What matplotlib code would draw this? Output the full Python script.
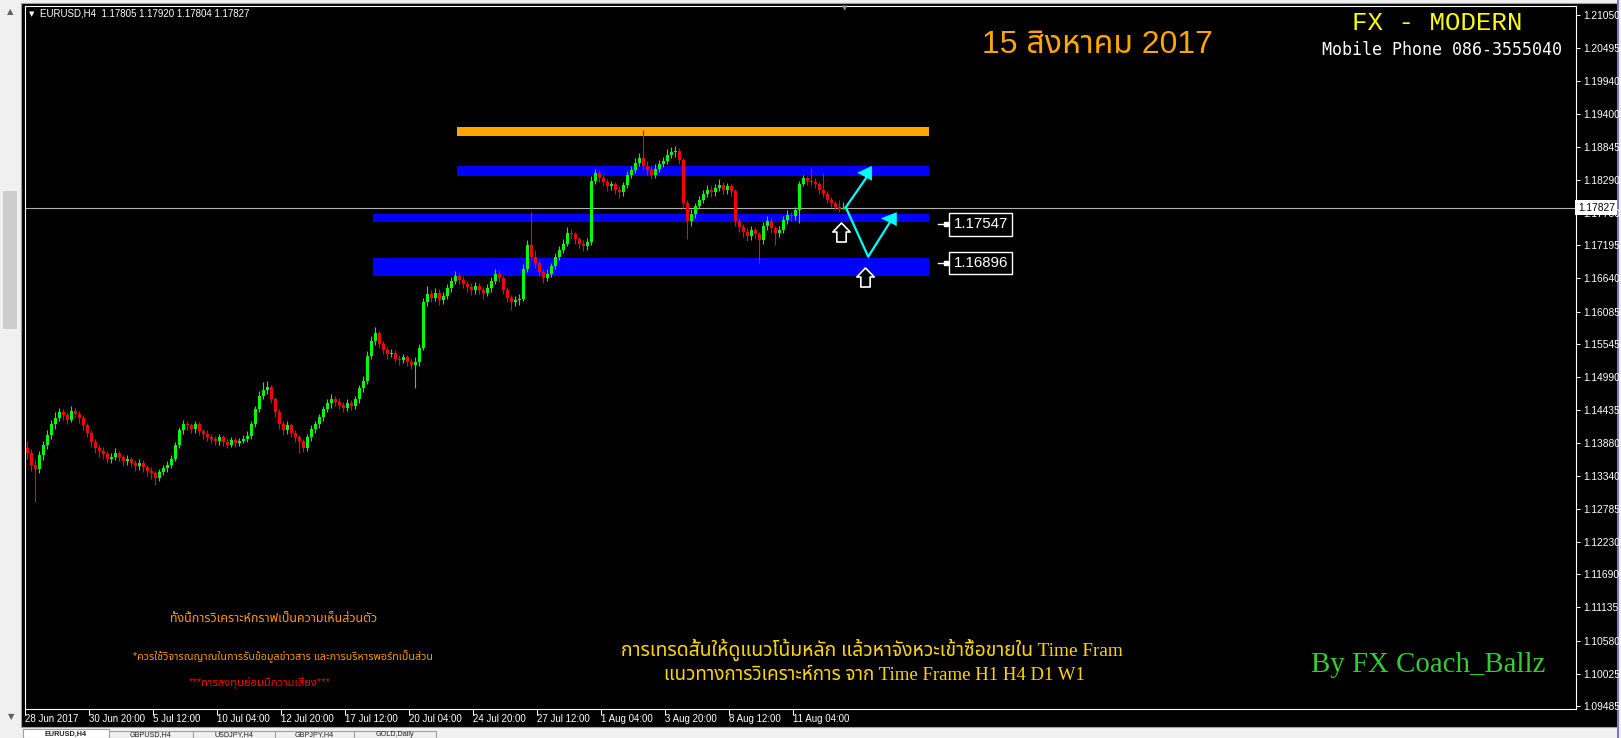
import matplotlib
matplotlib.use('Agg')
import matplotlib.pyplot as plt
from matplotlib import font_manager
from matplotlib.ft2font import FT2Font
from matplotlib.patches import Rectangle, Polygon
from matplotlib.path import Path

W, H = 1621, 738

# ---------------- data ----------------
first_open = 1.1380
closes = [
    1.1372, 1.1352, 1.1345, 1.1368, 1.1385, 1.1402, 1.1420, 1.1430, 1.1440, 1.1436,
    1.1428, 1.1442, 1.1438, 1.1430, 1.1418, 1.1405, 1.1390, 1.1380, 1.1375, 1.1370,
    1.1362, 1.1366, 1.1372, 1.1365, 1.1358, 1.1362, 1.1355, 1.1350, 1.1356, 1.1348,
    1.1342, 1.1338, 1.1330, 1.1340, 1.1346, 1.1352, 1.1362, 1.1385, 1.1410, 1.1420,
    1.1418, 1.1412, 1.1420, 1.1408, 1.1404, 1.1398, 1.1395, 1.1392, 1.1398, 1.1390,
    1.1386, 1.1394, 1.1388, 1.1392, 1.1396, 1.1400, 1.1420, 1.1445, 1.1468, 1.1478,
    1.1482, 1.1462, 1.1440, 1.1420, 1.1410, 1.1418, 1.1405, 1.1398, 1.1392, 1.1380,
    1.1398, 1.1412, 1.1420, 1.1432, 1.1445, 1.1455, 1.1462, 1.1458, 1.1452, 1.1448,
    1.1456, 1.1450, 1.1462, 1.1480, 1.1492, 1.1535, 1.1560, 1.1572, 1.1555, 1.1545,
    1.1538, 1.1540, 1.1530, 1.1528, 1.1532, 1.1525, 1.1520, 1.1525, 1.1548, 1.1625,
    1.1638, 1.1632, 1.1640, 1.1628, 1.1635, 1.1648, 1.1660, 1.1668, 1.1662, 1.1655,
    1.1650, 1.1644, 1.1652, 1.1645, 1.1640, 1.1648, 1.1660, 1.1672, 1.1665, 1.1645,
    1.1632, 1.1625, 1.1628, 1.1630, 1.1680, 1.1720, 1.1700, 1.1690, 1.1675, 1.1665,
    1.1672, 1.1685, 1.1700, 1.1712, 1.1722, 1.1740, 1.1738, 1.1730, 1.1722, 1.1718,
    1.1725, 1.1828, 1.1840, 1.1832, 1.1825, 1.1818, 1.1822, 1.1812, 1.1808, 1.1820,
    1.1838, 1.1845, 1.1858, 1.1865, 1.1852, 1.1845, 1.1838, 1.1848, 1.1855, 1.1860,
    1.1870, 1.1875, 1.1878, 1.1862, 1.1790, 1.1760, 1.1772, 1.1785, 1.1795, 1.1805,
    1.1812, 1.1808, 1.1815, 1.1820, 1.1812, 1.1818, 1.1810, 1.1760, 1.1750, 1.1742,
    1.1735, 1.1745, 1.1738, 1.1728, 1.1752, 1.1760, 1.1748, 1.1740, 1.1745, 1.1762,
    1.1770, 1.1768, 1.1778, 1.1822, 1.1832, 1.1828, 1.1826, 1.1822, 1.1812, 1.1805,
    1.1796, 1.1790, 1.1784, 1.17805, 1.17827,
]
highs = [
    1.1392, 1.1378, 1.1360, 1.1375, 1.1392, 1.1410, 1.1428, 1.1441, 1.1448, 1.1446,
    1.1440, 1.1450, 1.1447, 1.1442, 1.1435, 1.1422, 1.1410, 1.1395, 1.1386, 1.1382,
    1.1376, 1.1372, 1.1380, 1.1376, 1.1368, 1.1368, 1.1366, 1.1360, 1.1362, 1.1360,
    1.1352, 1.1348, 1.1342, 1.1345, 1.1352, 1.1358, 1.1368, 1.1390, 1.1416, 1.1428,
    1.1426, 1.1422, 1.1425, 1.1424, 1.1412, 1.1410, 1.1404, 1.1400, 1.1404, 1.1402,
    1.1395, 1.1399, 1.1398, 1.1397, 1.1402, 1.1408, 1.1426, 1.1450, 1.1475, 1.1490,
    1.1492, 1.1486, 1.1466, 1.1445, 1.1426, 1.1425, 1.1422, 1.1410, 1.1402, 1.1396,
    1.1404, 1.1418, 1.1426, 1.1438, 1.1450, 1.1462, 1.1470, 1.1468, 1.1464, 1.1458,
    1.1462, 1.1460, 1.1468, 1.1486, 1.1500, 1.1542, 1.1568, 1.1582, 1.1576, 1.1560,
    1.1550, 1.1546, 1.1544, 1.1536, 1.1538, 1.1536, 1.1530, 1.1532, 1.1555, 1.1632,
    1.1652, 1.1645, 1.1648, 1.1646, 1.1642, 1.1654, 1.1666, 1.1676, 1.1674, 1.1668,
    1.1660, 1.1656, 1.1658, 1.1656, 1.1650, 1.1654, 1.1666, 1.1680, 1.1678, 1.1668,
    1.1650, 1.1636, 1.1635, 1.1638, 1.1688, 1.1728, 1.1775, 1.1712, 1.1695, 1.1680,
    1.1680, 1.1690, 1.1706, 1.1718, 1.1730, 1.1750, 1.1746, 1.1742, 1.1734, 1.1728,
    1.1732, 1.1835, 1.1848, 1.1845, 1.1838, 1.1830, 1.1828, 1.1826, 1.1818, 1.1826,
    1.1844, 1.1852, 1.1866, 1.1874, 1.1912, 1.1860, 1.1852, 1.1855, 1.1862, 1.1868,
    1.1880, 1.1884, 1.1886, 1.1882, 1.1866, 1.1795, 1.1780, 1.1790, 1.1802, 1.1812,
    1.1820, 1.1818, 1.1822, 1.1830, 1.1826, 1.1824, 1.1822, 1.1814, 1.1766, 1.1756,
    1.1748, 1.1752, 1.1750, 1.1742, 1.1758, 1.1768, 1.1765, 1.1752, 1.1752, 1.1768,
    1.1778, 1.1776, 1.1784, 1.1828, 1.1838, 1.1836, 1.1849, 1.1832, 1.1826, 1.1841,
    1.1810, 1.1800, 1.1794, 1.1795, 1.17920,
]
lows = [
    1.1362, 1.1342, 1.1290, 1.1338, 1.1360, 1.1378, 1.1395, 1.1412, 1.1425, 1.1428,
    1.1420, 1.1424, 1.1430, 1.1422, 1.1410, 1.1398, 1.1382, 1.1372, 1.1366, 1.1362,
    1.1355, 1.1356, 1.1360, 1.1358, 1.1350, 1.1352, 1.1348, 1.1342, 1.1344, 1.1340,
    1.1334, 1.1328, 1.1318, 1.1325, 1.1335, 1.1340, 1.1346, 1.1358, 1.1380, 1.1404,
    1.1410, 1.1405, 1.1406, 1.1402, 1.1396, 1.1392, 1.1388, 1.1386, 1.1386, 1.1384,
    1.1380, 1.1382, 1.1382, 1.1384, 1.1388, 1.1390, 1.1396, 1.1416, 1.1440, 1.1462,
    1.1470, 1.1455, 1.1432, 1.1412, 1.1402, 1.1404, 1.1398, 1.1390, 1.1372, 1.1374,
    1.1376, 1.1392, 1.1406, 1.1414, 1.1426, 1.1440, 1.1448, 1.1450, 1.1445, 1.1440,
    1.1442, 1.1444, 1.1446, 1.1456, 1.1474, 1.1488, 1.1530, 1.1552, 1.1548, 1.1538,
    1.1530, 1.1532, 1.1524, 1.1520, 1.1522, 1.1518, 1.1512, 1.1480, 1.1518, 1.1544,
    1.1618, 1.1624, 1.1626, 1.1620, 1.1622, 1.1630, 1.1642, 1.1655, 1.1655, 1.1648,
    1.1642, 1.1636, 1.1638, 1.1638, 1.1630, 1.1634, 1.1642, 1.1655, 1.1658, 1.1638,
    1.1625, 1.1612, 1.1618, 1.1620, 1.1626, 1.1675, 1.1695, 1.1682, 1.1668, 1.1656,
    1.1660, 1.1666, 1.1680, 1.1695, 1.1706, 1.1718, 1.1730, 1.1722, 1.1715, 1.1710,
    1.1712, 1.1720, 1.1822, 1.1825, 1.1818, 1.1810, 1.1812, 1.1805, 1.1798, 1.1802,
    1.1815, 1.1832, 1.1840, 1.1852, 1.1845, 1.1838, 1.1830, 1.1832, 1.1842, 1.1850,
    1.1855, 1.1866, 1.1868, 1.1855, 1.1782, 1.1730, 1.1752, 1.1766, 1.1780, 1.1790,
    1.1800, 1.1800, 1.1802, 1.1810, 1.1805, 1.1806, 1.1802, 1.1752, 1.1742, 1.1734,
    1.1726, 1.1728, 1.1730, 1.1690, 1.1722, 1.1745, 1.1740, 1.1720, 1.1734, 1.1740,
    1.1756, 1.1760, 1.1762, 1.1757, 1.1818, 1.1820, 1.1820, 1.1815, 1.1806, 1.1800,
    1.1790, 1.1784, 1.1778, 1.1776, 1.17804,
]
opens = [first_open] + closes[:-1]

price_ticks = [1.21050, 1.20495, 1.19940, 1.19400, 1.18845, 1.18290, 1.17730,
               1.17195, 1.16640, 1.16085, 1.15545, 1.14990, 1.14435, 1.13880,
               1.13340, 1.12785, 1.12230, 1.11690, 1.11135, 1.10580, 1.10025, 1.09485]
time_labels = ["28 Jun 2017", "30 Jun 20:00", "5 Jul 12:00", "10 Jul 04:00",
               "12 Jul 20:00", "17 Jul 12:00", "20 Jul 04:00", "24 Jul 20:00",
               "27 Jul 12:00", "1 Aug 04:00", "3 Aug 20:00", "8 Aug 12:00", "11 Aug 04:00"]
bars_per_label = 16
last_price = 1.17827

# support / resistance zones (bar index range, price range)
zone_low = [1.19025, 1.18355, 1.17586, 1.16682]
zone_high = [1.19176, 1.18523, 1.17719, 1.16983]
zone_start = [107.5, 107.5, 86.5, 86.5]
zone_end = 225.5
zone_colors = ['#FFA500', '#0000FF', '#0000FF', '#0000FF']

label_prices = [1.17547, 1.16896]

# projected path (cyan)
up_x, up_y = [204.7, 210.3], [1.17832, 1.18372]
down_x, down_y = [204.7, 210.3, 216.6], [1.17832, 1.17005, 1.17674]
head1 = [(207.6, 1.18411), (211.2, 1.18523), (211.2, 1.18277)]
head2 = [(213.5, 1.17648), (217.4, 1.17748), (217.4, 1.17519)]
buy_x, buy_y = [203.6, 209.6], [1.17415, 1.16665]

# ---------------- fonts ----------------
names = {f.name for f in font_manager.fontManager.ttflist}


def pick_thai_font():
    found = []
    for f in font_manager.fontManager.ttflist:
        try:
            ft = FT2Font(f.fname)
            if all(ft.get_char_index(ord(ch)) for ch in 'กสงหาคม'):
                found.append(f.name)
        except Exception:
            pass
    for n in ('Tahoma', 'Noto Sans Thai', 'Noto Sans Thai UI', 'Loma', 'Garuda',
              'Sarabun', 'Norasi', 'Kinnari', 'Waree'):
        if n in found:
            return n
    return found[0] if found else None


thai = pick_thai_font()
narrow = 'Liberation Sans Narrow' if 'Liberation Sans Narrow' in names else 'Liberation Sans'


def fam(*fams):
    out = list(fams)
    if thai:
        out.append(thai)
    out.append('DejaVu Sans')
    return out


def fx(px):
    return px / W


def fy(py):
    return 1 - py / H


# ---------------- figure ----------------
fig = plt.figure(figsize=(W / 100, H / 100), dpi=100, facecolor='#F0F0F0')
fig.add_artist(Rectangle((fx(21), fy(727)), (1617 - 21) / W, (727 - 3) / H,
                         transform=fig.transFigure, facecolor='black',
                         edgecolor='#A0A0A0', lw=0.8, zorder=-2))
# scrollbar on the left
fig.add_artist(Rectangle((fx(3), fy(329)), 14 / W, (329 - 191) / H,
                         transform=fig.transFigure, facecolor='#CDCDCD',
                         edgecolor='none', zorder=-2))
fig.text(fx(10), fy(12), '▲', color='#606060', fontsize=6, ha='center', va='center',
         family='DejaVu Sans')
fig.text(fx(11), fy(717), '▼', color='#606060', fontsize=6, ha='center', va='center',
         family='DejaVu Sans')
fig.add_artist(Rectangle((fx(1617), 0), 2 / W, fy(0),
                         transform=fig.transFigure, facecolor='#8070D0',
                         edgecolor='none', zorder=-1))

# tabs at the bottom
tab_edges = [23, 109, 193, 275, 354, 436]
tab_names = ['EURUSD,H4', 'GBPUSD,H4', 'USDJPY,H4', 'GBPJPY,H4', 'GOLD,Daily']
for k, name in enumerate(tab_names):
    x0, x1 = tab_edges[k], tab_edges[k + 1]
    fig.add_artist(Rectangle((fx(x0), 0), (x1 - x0) / W, fy(729 if k == 0 else 731),
                             transform=fig.transFigure,
                             facecolor='white' if k == 0 else '#F0F0F0',
                             edgecolor='#A0A0A0', lw=0.8, zorder=-1))
    fig.text(fx((x0 + x1) / 2), fy(734.5), name, color='#202020', fontsize=5.2,
             ha='center', va='center', family='Liberation Sans',
             fontweight='bold' if k == 0 else 'normal')

ax = fig.add_axes([fx(25), fy(709), (1576 - 25) / W, (709 - 6) / H])
ax.set_facecolor('black')
for s in ax.spines.values():
    s.set_color('white')
    s.set_linewidth(0.8)
ax.set_xlim(-0.5, 387.25)
ax.set_ylim(1.094348, 1.212006)

# zones
for lo, hi, x0, c in zip(zone_low, zone_high, zone_start, zone_colors):
    ax.add_patch(Rectangle((x0, lo), zone_end - x0, hi - lo, facecolor=c,
                           edgecolor='none', zorder=1))

# candles
idx = list(range(len(closes)))
cols = ['#00FF00' if c >= o else '#FF0000' for o, c in zip(opens, closes)]
bottoms = [min(o, c) for o, c in zip(opens, closes)]
heights = [max(abs(c - o), 0.00004) for o, c in zip(opens, closes)]
ax.vlines(idx, lows, highs, colors=cols, lw=0.8, zorder=2)
ax.bar(idx, heights, bottom=bottoms, width=0.75, color=cols, lw=0, zorder=2)

# current price line
ax.axhline(last_price, color='#B0B0B0', lw=0.8, zorder=1.5)

# projections
ax.plot(up_x, up_y, color='#00FFFF', lw=1.6, zorder=4)
ax.plot(down_x, down_y, color='#00FFFF', lw=1.6, zorder=4)
for hd in (head1, head2):
    ax.add_patch(Polygon(hd, closed=True, facecolor='#00FFFF', edgecolor='none', zorder=5))
    tip, top, bot = hd
    ax.add_patch(Polygon([((tip[0] + bot[0]) / 2 + 0.8, (tip[1] + bot[1]) / 2), top, bot],
                         closed=True, facecolor='#00E000', edgecolor='none', zorder=4.9))
    ax.add_patch(Polygon([((tip[0] + bot[0]) / 2 + 0.8, (tip[1] + bot[1]) / 2),
                          (top[0], (top[1] + bot[1]) / 2), tip],
                         closed=True, facecolor='#00FFFF', edgecolor='none', zorder=5))

# hollow buy arrows
arrow_verts = [(0, 9.5), (8.65, 0.5), (4.65, 0.5), (4.65, -9.5), (-4.65, -9.5),
               (-4.65, 0.5), (-8.65, 0.5), (0, 9.5)]
arrow_path = Path(arrow_verts, [Path.MOVETO] + [Path.LINETO] * 6 + [Path.CLOSEPOLY])
ax.plot(buy_x, buy_y, ls='none', marker=arrow_path, ms=13.7, mfc='black',
        mec='white', mew=1.2, zorder=6)

# price labels
for p in label_prices:
    ax.plot([227.8, 230.6], [p, p], color='white', lw=1, zorder=6)
    ax.plot([229.8], [p], ls='none', marker='s', ms=2.5, color='white', zorder=6)
    ax.text(231.6, p, f'{p:.5f}', color='white', fontsize=10.8, family=narrow,
            ha='left', va='center', zorder=7,
            bbox=dict(boxstyle='square,pad=0.28', facecolor='black',
                      edgecolor='white', lw=1))

# axes ticks
ax.yaxis.tick_right()
ax.set_yticks(price_ticks)
ax.set_yticklabels([f'{v:.5f}' for v in price_ticks], family='Liberation Sans')
ax.tick_params(axis='y', colors='white', direction='out', length=3, width=0.7,
               labelsize=7.4, pad=2)
xt = [bars_per_label * k - 0.5 for k in range(len(time_labels))]
ax.set_xticks(xt)
ax.set_xticklabels([])
ax.tick_params(axis='x', colors='white', direction='out', length=4, width=0.7)
for x, lab in zip(xt, time_labels):
    ax.text(x + 0.1, -10 / 703, lab, transform=ax.get_xaxis_transform(),
            color='white', fontsize=7, family='Liberation Sans', ha='left', va='center')

ax.text(1.0012, last_price, f'{last_price:.5f}', transform=ax.get_yaxis_transform(),
        color='black', fontsize=7.4, family='Liberation Sans', ha='left', va='center',
        zorder=8, clip_on=False,
        bbox=dict(boxstyle='square,pad=0.25', facecolor='white', edgecolor='none'))

# chart-shift marker
fig.text(fx(845), fy(8), '▼', color='#909090', fontsize=5, ha='center', va='center',
         family='DejaVu Sans')

# header
fig.text(fx(32), fy(14), '▼', color='white', fontsize=5, ha='center', va='center',
         family='DejaVu Sans')
fig.text(fx(40), fy(14), 'EURUSD,H4  1.17805 1.17920 1.17804 1.17827', color='white',
         fontsize=7, ha='left', va='center', family='Liberation Sans')

# annotations
fig.text(fx(982), fy(45), '15 สิงหาคม 2017', color='#FFA500', fontsize=23,
         ha='left', va='center', family=fam('Liberation Sans'))
fig.text(fx(1352), fy(23), 'FX - MODERN', color='#FFFF00', fontsize=18.5,
         ha='left', va='center', family='Liberation Mono')
fig.text(fx(1322), fy(50), 'Mobile Phone 086-3555040', color='white', fontsize=12,
         ha='left', va='center', family='DejaVu Sans Mono')

fig.text(fx(274), fy(619), 'ทั้งนี้การวิเคราะห์กราฟเป็นความเห็นส่วนตัว', color='#FF9A00',
         fontsize=9, ha='center', va='center', family=fam('Liberation Sans'))
fig.text(fx(283), fy(657), '*ควรใช้วิจารณญาณในการรับข้อมูลข่าวสาร และการบริหารพอร์ทเป็นส่วน',
         color='#FF9A00', fontsize=7.7, ha='center', va='center', family=fam('Liberation Sans'))
fig.text(fx(260), fy(683), '***การลงทุนย่อมมีความเสี่ยง***', color='#FF0000',
         fontsize=8.1, ha='center', va='center', family=fam('Liberation Sans'))

fig.text(fx(872), fy(650), 'การเทรดสั้นให้ดูแนวโน้มหลัก แล้วหาจังหวะเข้าซื้อขายใน Time Fram',
         color='#FFD700', fontsize=13.9, ha='center', va='center',
         family=fam('Liberation Serif'))
fig.text(fx(874), fy(675), 'แนวทางการวิเคราะห์การ จาก Time Frame H1 H4 D1 W1',
         color='#FFD700', fontsize=13.5, ha='center', va='center',
         family=fam('Liberation Serif'))
fig.text(fx(1311), fy(665), 'By FX Coach_Ballz', color='#32CD32', fontsize=20.8,
         ha='left', va='center', family='Liberation Serif')

fig.savefig('out.png', dpi=100, facecolor=fig.get_facecolor())
